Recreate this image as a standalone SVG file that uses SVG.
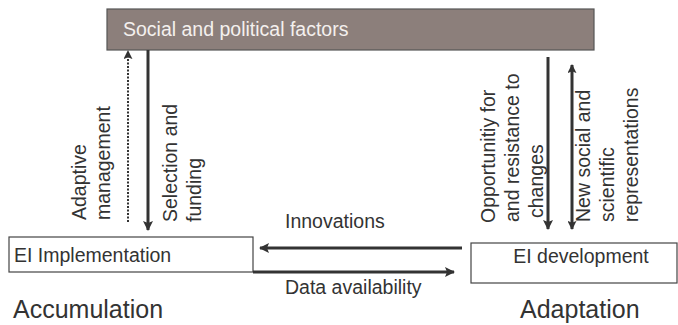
<svg xmlns="http://www.w3.org/2000/svg" width="678" height="325" viewBox="0 0 678 325">
<style>
text{font-family:"Liberation Sans",Arial,sans-serif;fill:#333}
.lbl{font-size:19.5px}
.big{font-size:25px}
.box{fill:#fff;stroke:#444;stroke-width:1.2}
.ln{stroke:#333;stroke-width:3;fill:none}
.dot{stroke:#333;stroke-width:2;stroke-dasharray:2 1.5;fill:none}
</style>
<defs>
<marker id="ah" viewBox="0 0 10 10" refX="9" refY="5" markerWidth="10" markerHeight="10" markerUnits="userSpaceOnUse" orient="auto-start-reverse">
<path d="M0,0 L10,5 L0,10 L2,5 z" fill="#333"/>
</marker>
<marker id="ahs" viewBox="0 0 10 10" refX="9" refY="5" markerWidth="9" markerHeight="9" markerUnits="userSpaceOnUse" orient="auto-start-reverse">
<path d="M0,0 L10,5 L0,10 L2,5 z" fill="#333"/>
</marker>
</defs>
<g id="social">
<rect x="107" y="9" width="487" height="41" fill="#8c7f7b" stroke="#555" stroke-width="1.2"/>
<text x="123" y="36" class="lbl" style="fill:#f4f0ee">Social and political factors</text>
</g>
<g id="implementation">
<rect x="9" y="237" width="244" height="35" class="box"/>
<text x="14" y="262" class="lbl">EI Implementation</text>
</g>
<g id="development">
<rect x="471" y="243" width="206" height="40" class="box"/>
<text x="581" y="263" class="lbl" text-anchor="middle">EI development</text>
</g>
<g id="phases">
<text x="13" y="318" class="big">Accumulation</text>
<text x="520" y="318" class="big">Adaptation</text>
</g>
<g id="connectors">
<line x1="128" y1="222" x2="128" y2="51" class="dot" marker-end="url(#ahs)"/>
<line x1="148" y1="50" x2="148" y2="230" class="ln" marker-end="url(#ah)"/>
<line x1="548" y1="57" x2="548" y2="229" class="ln" marker-end="url(#ah)"/>
<line x1="572" y1="65" x2="572" y2="229" class="ln" stroke-width="2" marker-start="url(#ahs)" marker-end="url(#ahs)"/>
<line x1="462" y1="248" x2="260" y2="248" class="ln" marker-end="url(#ah)"/>
<line x1="253" y1="272" x2="454" y2="272" class="ln" marker-end="url(#ah)"/>
</g>
<g id="labels" class="lbl">
<text transform="translate(86,220) rotate(-90)">Adaptive</text>
<text transform="translate(110,220) rotate(-90)">management</text>
<text transform="translate(177,222) rotate(-90)">Selection and</text>
<text transform="translate(201,222) rotate(-90)">funding</text>
<text transform="translate(495,223) rotate(-90)">Opportunitiy for</text>
<text transform="translate(519,222) rotate(-90)">and resistance to</text>
<text transform="translate(543,218) rotate(-90)">changes</text>
<text transform="translate(590,222) rotate(-90)">New social and</text>
<text transform="translate(614,222) rotate(-90)">scientific</text>
<text transform="translate(638,222) rotate(-90)">representations</text>
<text x="285" y="228">Innovations</text>
<text x="285" y="294">Data availability</text>
</g>
</svg>
